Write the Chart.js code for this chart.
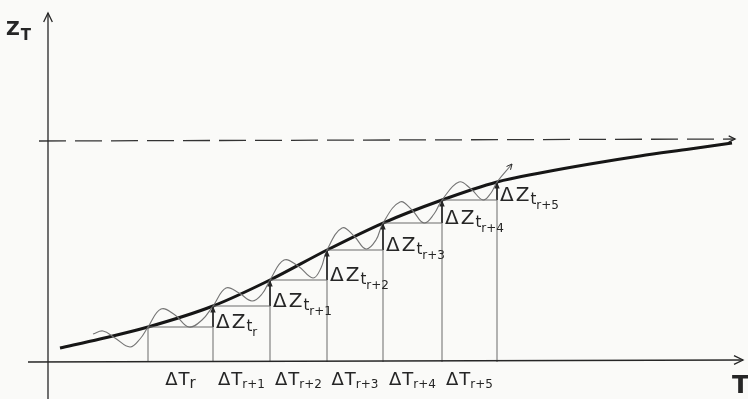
<!DOCTYPE html>
<html lang="en">
<head>
<meta charset="UTF-8">
<title>Z_T(T)</title>
<script src="https://cdn.jsdelivr.net/npm/chart.js"></script>
<style>
  body { margin: 0; background: #fafaf8; }
  #wrap { width: 748px; height: 399px; }
</style>
</head>
<body>
<div id="wrap"><canvas id="grafico"></canvas></div>
<script>
// curva principal Z_T(T)
const curveT = [12, 52, 100, 165, 222, 279, 335, 394, 449, 492, 542, 592, 642, 684];
const curveZ = [14, 23, 35, 56, 82, 112, 139, 162, 180, 189, 198, 206, 213, 219];

// curva oscilante fina
const waveT = [45, 55, 67, 82, 92, 100, 113, 127, 141, 154, 165, 178, 191, 204, 214, 222, 236, 250, 265, 273, 279,
               294, 306, 318, 328, 335, 352, 364, 376, 386, 394, 411, 423, 435, 443, 449, 464];
const waveZ = [28, 31, 24, 15, 23, 35, 53, 47, 35, 42, 56, 74, 69, 61, 68, 82, 102, 96, 84, 94, 112,
               134, 126, 113, 122, 139, 160, 152, 139, 148, 162, 180, 173, 162, 169, 180, 198];

// pontos dos degraus (inicio/fim de cada intervalo)
const stepT = [100, 165, 222, 279, 335, 394, 449];
const stepZ = [35, 56, 82, 112, 139, 162, 180];

// assintota tracejada
const limitT = [-9, 687];
const limitZ = [221, 223];

const dZSubs = ["r", "r+1", "r+2", "r+3", "r+4", "r+5"];
const dTSubs = ["r", "r+1", "r+2", "r+3", "r+4", "r+5"];

function pts(xs, ys) { return xs.map((v, i) => ({ x: v, y: ys[i] })); }

// degraus finos: verticais e horizontais
let thin = [];
for (let i = 0; i < stepT.length; i++) {
    thin.push({ x: stepT[i], y: 0 }, { x: stepT[i], y: stepZ[i] }, { x: stepT[i], y: null });
}
for (let i = 0; i < stepT.length - 1; i++) {
    thin.push({ x: stepT[i], y: stepZ[i] }, { x: stepT[i + 1], y: stepZ[i] }, { x: stepT[i + 1], y: null });
}
// setas ΔZ
let arrows = [];
for (let i = 0; i < stepT.length - 1; i++) {
    arrows.push({ x: stepT[i + 1], y: stepZ[i] }, { x: stepT[i + 1], y: stepZ[i + 1] }, { x: stepT[i + 1], y: null });
}

const ink = "#262626";

function head(ctx, x1, y1, x2, y2, size, filled) {
    const a = Math.atan2(y2 - y1, x2 - x1);
    const s = filled ? 0.4 : 0.45;
    ctx.beginPath();
    ctx.moveTo(x2 - size * Math.cos(a - s), y2 - size * Math.sin(a - s));
    ctx.lineTo(x2, y2);
    ctx.lineTo(x2 - size * Math.cos(a + s), y2 - size * Math.sin(a + s));
    if (filled) { ctx.closePath(); ctx.fill(); } else { ctx.stroke(); }
}

function texto(ctx, x0, base, parts, measureOnly) {
    let x = x0;
    parts.forEach(p => {
        ctx.font = (p.bold ? "bold " : "") + p.size + "px 'DejaVu Sans'";
        if (!measureOnly) ctx.fillText(p.t, x, base + p.dy);
        x += ctx.measureText(p.t).width + (p.gap || 0);
    });
    return x - x0;
}

const extras = {
    id: "extras",
    afterDatasetsDraw(chart) {
        const { ctx, scales: { x, y } } = chart;
        const px = v => x.getPixelForValue(v);
        const py = v => y.getPixelForValue(v);
        ctx.save();
        ctx.strokeStyle = ink;
        ctx.fillStyle = ink;
        ctx.lineWidth = 1.3;
        // eixos
        head(ctx, px(0), py(300), px(0), py(349), 10, false);
        head(ctx, px(600), py(2), px(695), py(2), 10, false);
        head(ctx, px(600), py(223), px(687), py(223), 7, false);
        // ponta da onda
        ctx.lineWidth = 1;
        const n = waveT.length;
        head(ctx, px(waveT[n - 2]), py(waveZ[n - 2]), px(waveT[n - 1]), py(waveZ[n - 1]), 6, false);
        // setas ΔZ
        for (let i = 0; i < stepT.length - 1; i++) {
            head(ctx, px(stepT[i + 1]), py(stepZ[i]), px(stepT[i + 1]), py(stepZ[i + 1]), 7, true);
        }
        // rotulos ΔZ
        ctx.textBaseline = "alphabetic";
        for (let i = 0; i < dZSubs.length; i++) {
            const x0 = px(stepT[i + 1]) + 3;
            const b = py(stepZ[i]) + 1;
            texto(ctx, x0, b, [
                { t: "Δ", size: 20, dy: 0, gap: 2 },
                { t: "Z", size: 20, dy: 0, gap: 1 },
                { t: "t", size: 15, dy: 3 },
                { t: dZSubs[i], size: 12, dy: 8 }
            ]);
        }
        // rotulos ΔT
        for (let i = 0; i < dTSubs.length; i++) {
            const c = (px(stepT[i]) + px(stepT[i + 1])) / 2;
            const parts = [
                { t: "Δ", size: 18, dy: 0, gap: 1 },
                { t: "T", size: 18, dy: 0 },
                { t: dTSubs[i], size: dTSubs[i].length > 1 ? 12 : 15, dy: 3 }
            ];
            const w = texto(ctx, 0, 0, parts, true);
            texto(ctx, c - w / 2, py(0) + 23, parts);
        }
        // titulos dos eixos
        texto(ctx, 6, 35, [{ t: "Z", size: 19, dy: 0, bold: true, gap: 1 }, { t: "T", size: 15, dy: 5, bold: true }]);
        texto(ctx, 732, 393, [{ t: "T", size: 25, dy: 0, bold: true }]);
        ctx.restore();
    }
};

new Chart(document.getElementById("grafico"), {
    type: "line",
    data: {
        datasets: [
            { data: [{ x: -20, y: 0 }, { x: 695, y: 2 }], borderColor: ink, borderWidth: 1.3 },
            { data: [{ x: 0, y: -37 }, { x: 0, y: 349 }], borderColor: ink, borderWidth: 1.3 },
            { data: pts(limitT, limitZ), borderColor: "#333", borderWidth: 1.3, borderDash: [27, 9] },
            { data: thin, borderColor: "#6a6a6a", borderWidth: 1, spanGaps: false },
            { data: pts(waveT, waveZ), borderColor: "#747474", borderWidth: 1.1, tension: 0.4 },
            { data: arrows, borderColor: "#111", borderWidth: 2, spanGaps: false },
            { data: pts(curveT, curveZ), borderColor: "#161616", borderWidth: 3, cubicInterpolationMode: "monotone" }
        ]
    },
    options: {
        responsive: true,
        maintainAspectRatio: false,
        animation: false,
        events: [],
        layout: { padding: 0 },
        elements: { point: { radius: 0 } },
        plugins: { legend: { display: false }, tooltip: { enabled: false } },
        scales: {
            x: { type: "linear", min: -48, max: 700, display: false },
            y: { type: "linear", min: -37, max: 362, display: false }
        }
    },
    plugins: [extras]
});
</script>
</body>
</html>
